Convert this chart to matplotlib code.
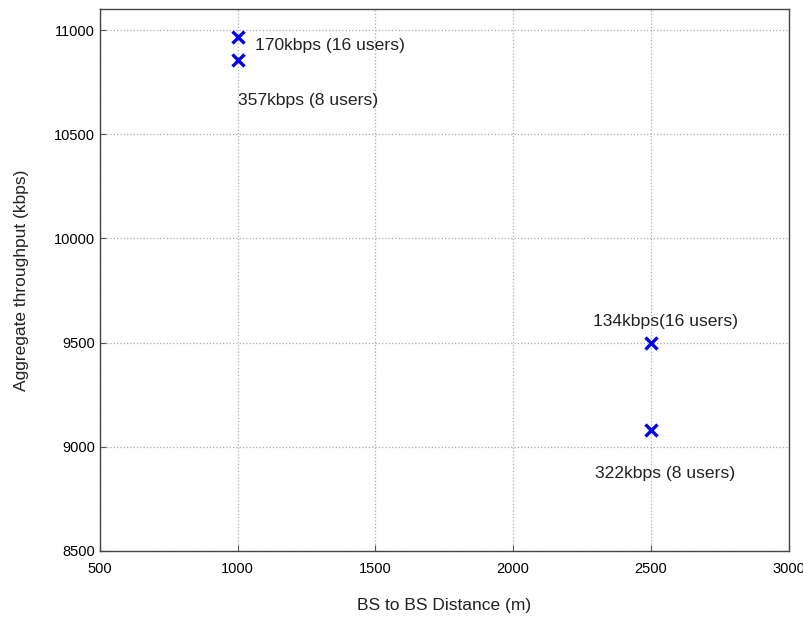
import matplotlib
matplotlib.use("Agg")
import matplotlib.pyplot as plt

distance = [1000, 1000, 2500, 2500]
throughput = [10968, 10856, 9499, 9079]
labels = ["170kbps (16 users)", "357kbps (8 users)", "134kbps(16 users)", "322kbps (8 users)"]
label_x = [1065, 1002, 2290, 2298]
label_y = [10928, 10663, 9600, 8873]
xticks = [500, 1000, 1500, 2000, 2500, 3000]
yticks = [8500, 9000, 9500, 10000, 10500, 11000]

plt.rcParams['font.family'] = ['Liberation Sans', 'DejaVu Sans']

fig = plt.figure(figsize=(8.04, 6.17), dpi=100)
ax = fig.add_axes([0.124, 0.107, 0.857, 0.878])
ax.plot(distance, throughput, linestyle='none', marker='x', color='#0000ee',
        markersize=9, markeredgewidth=2.4, zorder=3)
for lx, ly, t in zip(label_x, label_y, labels):
    ax.text(lx, ly, t, fontsize=12.6, va='center', ha='left', color='#222222')

ax.set_xlim(500, 3000)
ax.set_ylim(8500, 11100)
ax.set_xticks(xticks)
ax.set_yticks(yticks)
ax.tick_params(labelsize=10.5, direction='in', length=4, color='#555555')
ax.tick_params(axis='x', pad=8)
ax.grid(True, linestyle=':', color='#aaaaaa', linewidth=0.9)
for s in ax.spines.values():
    s.set_color('#444444')
    s.set_linewidth(1.0)
ax.set_xlabel("BS to BS Distance (m)", fontsize=12.5, labelpad=16, color='#222222')
ax.set_ylabel("Aggregate throughput (kbps)", fontsize=12.5, labelpad=18, color='#222222')

fig.savefig("out.png", dpi=100)
